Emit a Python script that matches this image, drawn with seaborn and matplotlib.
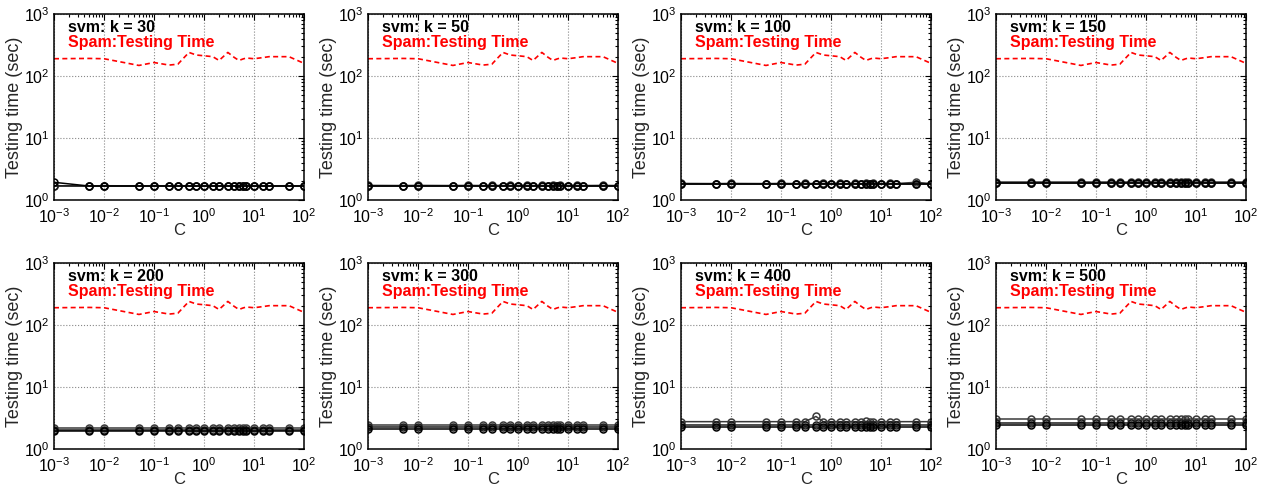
import numpy as np
import pandas as pd
import seaborn as sns
import matplotlib
matplotlib.use("Agg")
import matplotlib.pyplot as plt
from matplotlib.ticker import LogLocator, NullFormatter

# C values used on the x axis
c_values = [0.001, 0.005, 0.01, 0.05, 0.1, 0.2, 0.3, 0.5, 0.7, 1, 1.5, 2,
            3, 4, 5, 6, 7, 10, 15, 20, 50, 100]

# spam testing time (red dashed reference, same in every panel)
spam_time = [190, 192, 190, 148, 165, 150, 155, 240, 218, 212, 205, 178,
             240, 200, 178, 188, 195, 190, 198, 205, 205, 160]

# svm testing times, three runs per k (top run first)
k30 = [[1.70, 1.69, 1.70, 1.69, 1.70, 1.69, 1.70, 1.69, 1.70, 1.69, 1.70, 1.69, 1.70, 1.69, 1.70, 1.69, 1.70, 1.69, 1.70, 1.69, 1.70, 1.69],
       [1.66, 1.66, 1.66, 1.66, 1.66, 1.66, 1.66, 1.66, 1.66, 1.66, 1.66, 1.66, 1.66, 1.66, 1.66, 1.66, 1.66, 1.66, 1.66, 1.66, 1.66, 1.66],
       [1.93, 1.68, 1.68, 1.68, 1.68, 1.68, 1.68, 1.68, 1.68, 1.68, 1.68, 1.68, 1.68, 1.68, 1.68, 1.68, 1.68, 1.68, 1.68, 1.68, 1.68, 1.68]]
k50 = [[1.72, 1.71, 1.72, 1.71, 1.72, 1.71, 1.72, 1.71, 1.72, 1.71, 1.72, 1.71, 1.72, 1.71, 1.72, 1.71, 1.72, 1.71, 1.72, 1.71, 1.72, 1.71],
       [1.70, 1.70, 1.70, 1.70, 1.70, 1.70, 1.70, 1.70, 1.70, 1.70, 1.70, 1.70, 1.70, 1.70, 1.70, 1.70, 1.70, 1.70, 1.70, 1.70, 1.70, 1.70],
       [1.68, 1.68, 1.68, 1.68, 1.68, 1.68, 1.68, 1.68, 1.68, 1.68, 1.68, 1.68, 1.68, 1.68, 1.68, 1.68, 1.68, 1.68, 1.68, 1.68, 1.68, 1.68]]
k100 = [[1.85, 1.84, 1.85, 1.84, 1.85, 1.84, 1.85, 1.84, 1.85, 1.84, 1.85, 1.84, 1.85, 1.84, 1.85, 1.84, 1.85, 1.84, 1.85, 1.84, 1.93, 1.84],
        [1.82, 1.82, 1.82, 1.82, 1.82, 1.82, 1.82, 1.82, 1.82, 1.82, 1.82, 1.82, 1.82, 1.82, 1.82, 1.82, 1.82, 1.82, 1.82, 1.82, 1.82, 1.82],
        [1.78, 1.78, 1.78, 1.78, 1.78, 1.78, 1.78, 1.78, 1.78, 1.78, 1.78, 1.78, 1.78, 1.78, 1.78, 1.78, 1.78, 1.78, 1.78, 1.78, 1.78, 1.78]]
k150 = [[1.97, 1.97, 1.97, 1.97, 1.97, 1.97, 1.97, 1.97, 1.97, 1.97, 1.97, 1.97, 1.97, 1.97, 1.97, 1.97, 1.97, 1.97, 1.97, 1.97, 1.97, 1.97],
        [1.91, 1.91, 1.91, 1.91, 1.91, 1.91, 1.91, 1.91, 1.91, 1.91, 1.91, 1.91, 1.91, 1.91, 1.91, 1.91, 1.91, 1.91, 1.91, 1.91, 1.91, 1.91],
        [1.85, 1.85, 1.85, 1.85, 1.85, 1.85, 1.85, 1.85, 1.85, 1.85, 1.85, 1.85, 1.85, 1.85, 1.85, 1.85, 1.85, 1.85, 1.85, 1.85, 1.85, 1.85]]
k200 = [[2.18, 2.18, 2.18, 2.18, 2.18, 2.18, 2.18, 2.18, 2.18, 2.18, 2.18, 2.18, 2.18, 2.18, 2.18, 2.18, 2.18, 2.18, 2.18, 2.18, 2.18, 2.18],
        [2.05, 2.05, 2.05, 2.05, 2.05, 2.05, 2.05, 2.05, 2.05, 2.05, 2.05, 2.05, 2.05, 2.05, 2.05, 2.05, 2.05, 2.05, 2.05, 2.05, 2.05, 2.05],
        [1.97, 1.97, 1.97, 1.97, 1.97, 1.97, 1.97, 1.97, 1.97, 1.97, 1.97, 1.97, 1.97, 1.97, 1.97, 1.97, 1.97, 1.97, 1.97, 1.97, 1.97, 1.97]]
k300 = [[2.48, 2.48, 2.48, 2.48, 2.48, 2.48, 2.48, 2.48, 2.48, 2.48, 2.48, 2.48, 2.48, 2.48, 2.48, 2.48, 2.48, 2.48, 2.48, 2.48, 2.48, 2.48],
        [2.28, 2.28, 2.28, 2.28, 2.28, 2.28, 2.28, 2.28, 2.28, 2.28, 2.28, 2.28, 2.28, 2.28, 2.28, 2.28, 2.28, 2.28, 2.28, 2.28, 2.28, 2.28],
        [2.10, 2.10, 2.10, 2.10, 2.10, 2.10, 2.10, 2.10, 2.10, 2.10, 2.10, 2.10, 2.10, 2.10, 2.10, 2.10, 2.10, 2.10, 2.10, 2.10, 2.10, 2.10]]
k400 = [[2.76, 2.76, 2.76, 2.76, 2.76, 2.76, 2.76, 3.35, 2.76, 2.76, 2.76, 2.76, 2.76, 2.76, 2.78, 2.76, 2.76, 2.76, 2.76, 2.76, 2.76, 2.76],
        [2.41, 2.41, 2.41, 2.41, 2.41, 2.41, 2.41, 2.41, 2.41, 2.41, 2.41, 2.41, 2.41, 2.41, 2.41, 2.41, 2.41, 2.41, 2.41, 2.41, 2.41, 2.41],
        [2.24, 2.24, 2.24, 2.24, 2.24, 2.24, 2.24, 2.24, 2.24, 2.24, 2.24, 2.24, 2.24, 2.24, 2.24, 2.24, 2.24, 2.24, 2.24, 2.24, 2.24, 2.24]]
k500 = [[3.02, 3.02, 3.02, 3.02, 3.02, 3.02, 3.02, 3.02, 3.02, 3.02, 3.02, 3.02, 3.02, 3.02, 3.02, 3.02, 3.02, 3.02, 3.02, 3.02, 3.02, 3.02],
        [2.58, 2.58, 2.58, 2.58, 2.58, 2.58, 2.58, 2.58, 2.58, 2.58, 2.58, 2.58, 2.58, 2.58, 2.58, 2.58, 2.58, 2.58, 2.58, 2.58, 2.58, 2.58],
        [2.40, 2.40, 2.40, 2.40, 2.40, 2.40, 2.40, 2.40, 2.40, 2.40, 2.40, 2.40, 2.40, 2.40, 2.40, 2.40, 2.40, 2.40, 2.40, 2.40, 2.40, 2.40]]

k_labels = [30, 50, 100, 150, 200, 300, 400, 500]
k_runs = [k30, k50, k100, k150, k200, k300, k400, k500]
run_colors = ['#3a3a3a', '#1a1a1a', 'black']

sns.set_style("white")
plt.rcParams['font.family'] = ['Liberation Sans', 'DejaVu Sans']
plt.rcParams['mathtext.default'] = 'regular'
plt.rcParams['xtick.direction'] = 'in'
plt.rcParams['ytick.direction'] = 'in'

fig = plt.figure(figsize=(12.65, 4.87), dpi=100)

W, H = 1265.0, 487.0
lefts = [54, 368, 681, 996]
rows = [(14, 200), (263, 449)]

for i, (k, runs) in enumerate(zip(k_labels, k_runs)):
    top, bot = rows[i // 4]
    left = lefts[i % 4]
    ax = fig.add_axes([left / W, (H - bot) / H, 250 / W, (bot - top) / H])
    ax.set_xscale('log')
    ax.set_yscale('log')

    for run, col in zip(runs, run_colors):
        sns.lineplot(x=c_values, y=run, ax=ax, color=col, lw=1.1,
                     marker='o', markersize=5, markerfacecolor='none',
                     markeredgecolor=col, markeredgewidth=1.1,
                     estimator=None, sort=False)
    sns.lineplot(x=c_values, y=spam_time, ax=ax, color='red', lw=1.2,
                 linestyle=(0, (3, 2)), estimator=None, sort=False)

    ax.set_xlim(1e-3, 1e2)
    ax.set_ylim(1, 1e3)
    ax.xaxis.set_major_locator(LogLocator(base=10, numticks=10))
    ax.yaxis.set_major_locator(LogLocator(base=10, numticks=10))
    ax.xaxis.set_minor_locator(LogLocator(base=10, subs=np.arange(2, 10), numticks=20))
    ax.yaxis.set_minor_locator(LogLocator(base=10, subs=np.arange(2, 10), numticks=20))
    ax.yaxis.set_minor_formatter(NullFormatter())
    ax.xaxis.set_minor_formatter(NullFormatter())
    ax.tick_params(which='both', top=True, right=True, colors='black',
                   labelsize=11.5, width=0.8)
    ax.tick_params(axis='x', which='major', pad=5)
    ax.tick_params(axis='y', which='major', pad=3)
    ax.tick_params(which='major', length=4)
    ax.tick_params(which='minor', length=2)
    ax.grid(True, which='major', linestyle=':', color='#888888', lw=0.8)
    for s in ax.spines.values():
        s.set_color('black')
        s.set_linewidth(1.1)

    ax.set_xlabel('C', fontsize=12, labelpad=-2)
    ax.set_ylabel('Testing time (sec)', fontsize=13, labelpad=1)
    ax.text(0.055, 0.93, 'svm: k = %d' % k, transform=ax.transAxes,
            fontsize=11.5, fontweight='bold', color='black', va='center')
    ax.text(0.055, 0.845, 'Spam:Testing Time', transform=ax.transAxes,
            fontsize=11.5, fontweight='bold', color='red', va='center')

fig.savefig('out.png', dpi=100)
